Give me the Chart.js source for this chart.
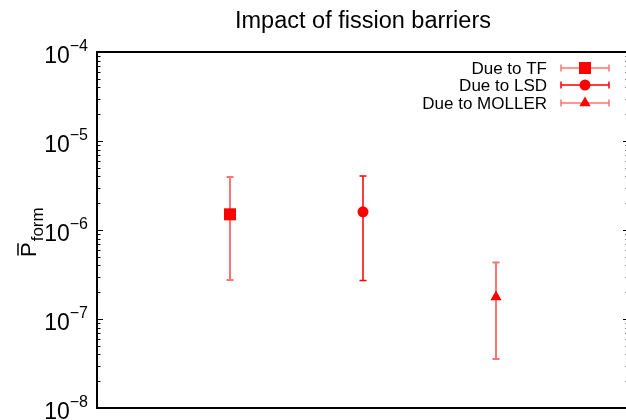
<!DOCTYPE html>
<html>
<head>
<meta charset="utf-8">
<script src="https://cdn.jsdelivr.net/npm/chart.js@4"></script>
<style>
  html, body { margin: 0; padding: 0; overflow: hidden; background: #fff; }
</style>
</head>
<body>
<canvas id="fissionChart" width="640" height="420"></canvas>
<script>
// data
const categories = ['Due to TF', 'Due to LSD', 'Due to MOLLER'];
const xPos = [1, 2, 3];
const pform = [1.5e-6, 1.6e-6, 1.77e-7];
const errHigh = [3.95e-6, 4.05e-6, 4.3e-7];
const errLow = [2.75e-7, 2.7e-7, 3.55e-8];
const yTicks = [1e-8, 1e-7, 1e-6, 1e-5, 1e-4];
const yExponents = ['\u22128', '\u22127', '\u22126', '\u22125', '\u22124'];

const markers = ['rect', 'circle', 'triangle'];
const markerSize = [8.5, 5.5, 6.5];
const barColors = ['rgba(255,0,0,0.55)', 'rgb(255,0,0)', 'rgba(255,0,0,0.55)'];
const barWidths = [2, 1.5, 2];
const FONT = '"Liberation Sans", Arial, sans-serif';

const ctxEl = document.getElementById('fissionChart');

// error bars under the markers
const errorBars = {
  id: 'errorBars',
  beforeDatasetsDraw(chart) {
    const ctx = chart.ctx;
    const xs = chart.scales.x, ys = chart.scales.y;
    ctx.save();
    for (let i = 0; i < xPos.length; i++) {
      const x = xs.getPixelForValue(xPos[i]);
      const yh = ys.getPixelForValue(errHigh[i]);
      const yl = ys.getPixelForValue(errLow[i]);
      ctx.strokeStyle = barColors[i];
      ctx.lineWidth = barWidths[i];
      ctx.beginPath();
      ctx.moveTo(x, yh); ctx.lineTo(x, yl);
      ctx.moveTo(x - 3.5, yh); ctx.lineTo(x + 3.5, yh);
      ctx.moveTo(x - 3.5, yl); ctx.lineTo(x + 3.5, yl);
      ctx.stroke();
    }
    ctx.restore();
  }
};

// gnuplot-like frame, inward ticks, labels, legend
const frame = {
  id: 'frame',
  afterDraw(chart) {
    const ctx = chart.ctx;
    const a = chart.chartArea;
    const ys = chart.scales.y;
    ctx.save();

    // ticks
    ctx.strokeStyle = '#000';
    ctx.lineWidth = 1;
    ctx.beginPath();
    for (let d = 0; d < yTicks.length; d++) {
      const dec = yTicks[d];
      const y = Math.round(ys.getPixelForValue(dec)) + 0.5;
      ctx.moveTo(a.left, y); ctx.lineTo(a.left + 6, y);
      ctx.moveTo(a.right, y); ctx.lineTo(a.right - 6, y);
      if (d < yTicks.length - 1) {
        for (let m = 2; m <= 9; m++) {
          const ym = Math.round(ys.getPixelForValue(dec * m)) + 0.5;
          ctx.moveTo(a.left, ym); ctx.lineTo(a.left + 3.5, ym);
          ctx.moveTo(a.right, ym); ctx.lineTo(a.right - 3.5, ym);
        }
      }
    }
    ctx.stroke();

    // border
    ctx.lineWidth = 2;
    ctx.strokeRect(a.left, a.top, a.right - a.left, a.bottom - a.top);

    // tick labels
    ctx.fillStyle = '#000';
    ctx.textBaseline = 'alphabetic';
    ctx.textAlign = 'right';
    for (let d = 0; d < yTicks.length; d++) {
      const y = ys.getPixelForValue(yTicks[d]);
      const right = a.left - 9;
      ctx.font = '16px ' + FONT;
      const ew = ctx.measureText(yExponents[d]).width;
      ctx.fillText(yExponents[d], right, y - 1);
      ctx.font = '23px ' + FONT;
      ctx.fillText('10', right - ew, y + 11);
    }

    // title
    ctx.textAlign = 'center';
    ctx.font = '23.5px ' + FONT;
    ctx.fillText('Impact of fission barriers', (a.left + a.right) / 2, 28);

    // y axis label: P-bar with subscript "form"
    ctx.save();
    ctx.translate(36, 257);
    ctx.rotate(-Math.PI / 2);
    ctx.textAlign = 'left';
    ctx.font = '22px ' + FONT;
    ctx.fillText('P', 0, 0);
    const pw = ctx.measureText('P').width;
    ctx.lineWidth = 1.5;
    ctx.beginPath();
    ctx.moveTo(1.5, -18); ctx.lineTo(pw - 1, -18);
    ctx.stroke();
    ctx.font = '17px ' + FONT;
    ctx.fillText('form', pw + 1, 7);
    ctx.restore();

    // legend
    const legendY = [68, 85, 103];
    for (let i = 0; i < categories.length; i++) {
      const y = legendY[i];
      ctx.textAlign = 'right';
      ctx.textBaseline = 'alphabetic';
      ctx.font = '17px ' + FONT;
      ctx.fillStyle = '#000';
      ctx.fillText(categories[i], 547, y + 6);
      ctx.strokeStyle = barColors[i];
      ctx.lineWidth = 1.5;
      ctx.beginPath();
      ctx.moveTo(561, y); ctx.lineTo(609, y);
      ctx.moveTo(561, y - 3.5); ctx.lineTo(561, y + 3.5);
      ctx.moveTo(609, y - 3.5); ctx.lineTo(609, y + 3.5);
      ctx.stroke();
      ctx.fillStyle = 'red';
      ctx.strokeStyle = 'red';
      Chart.helpers.drawPoint(ctx, {
        pointStyle: markers[i], radius: markerSize[i], rotation: 0, borderWidth: 0
      }, 585, y);
    }
    ctx.restore();
  }
};

new Chart(ctxEl, {
  type: 'scatter',
  data: {
    datasets: categories.map((c, i) => ({
      label: c,
      data: [{ x: xPos[i], y: pform[i] }],
      pointStyle: markers[i],
      pointRadius: markerSize[i],
      pointBackgroundColor: 'red',
      pointBorderColor: 'red',
      pointBorderWidth: 0
    }))
  },
  options: {
    responsive: false,
    animation: false,
    layout: { padding: { left: 97, top: 52, right: 11, bottom: 12 } },
    plugins: { legend: { display: false }, tooltip: { enabled: false }, title: { display: false } },
    scales: {
      x: { type: 'linear', min: 0, max: 4, display: false },
      y: { type: 'logarithmic', min: 1e-8, max: 1e-4, display: false }
    }
  },
  plugins: [errorBars, frame]
});
</script>
</body>
</html>
